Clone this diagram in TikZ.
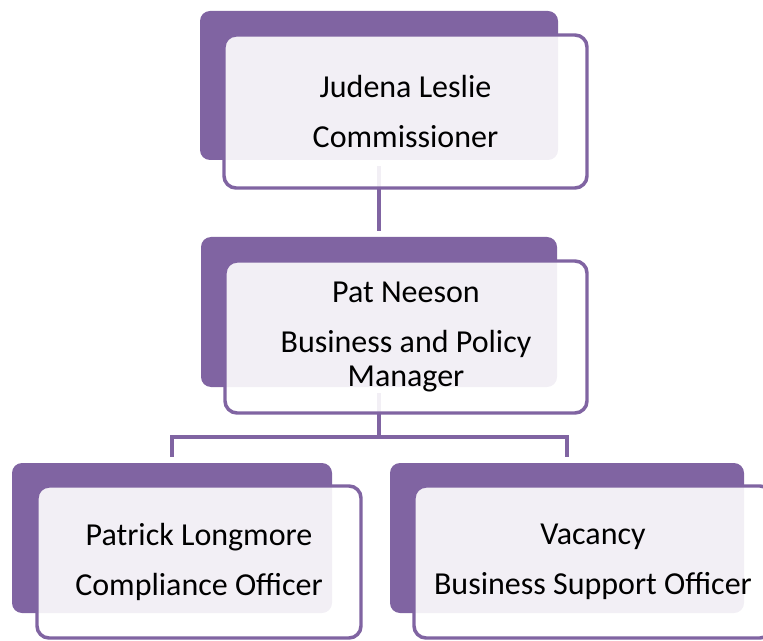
\documentclass[tikz,border=0pt]{standalone}
\usepackage{fontspec}
\setmainfont{Carlito}
\usetikzlibrary{positioning}
\definecolor{orgpurple}{HTML}{8064A2}
\tikzset{
x=0.75pt, y=-0.75pt, % one unit is one pixel of the reference, y going down
backbox/.style={fill=orgpurple, rounded corners=7.5pt, inner sep=0pt}, % the filled tab behind each box
frontbox/.style={draw=orgpurple, line width=2.6pt, fill=white, fill opacity=0.9, text opacity=1,
  rounded corners=9pt, inner sep=0pt, align=center, font=\fontsize{24}{26}\selectfont}, % the box with the text
link/.style={draw=orgpurple, line width=3.2pt, shorten <=4.5pt, shorten >=4.5pt}, % the lines between boxes
}

\begin{document}
\begin{tikzpicture}
        \useasboundingbox (0,0) rectangle (763,641);
        % tabs behind the boxes
        \node[backbox, minimum width=268.5pt, minimum height=111.75pt] (jl-back) at (379,85.5) {};
        \node[backbox, minimum width=267pt, minimum height=112.5pt] (pn-back) at (379,312) {};
        \node[backbox, minimum width=240pt, minimum height=112.5pt] (pl-back) at (172,538) {};
        \node[backbox, minimum width=265.5pt, minimum height=112.5pt] (vc-back) at (567,538) {};
        % lines
        \coordinate (bar) at (379,437);
        \draw[link] (jl-back.south) -- (pn-back.north);
        \draw[link, shorten >=0pt] (pn-back.south) -- (bar);
        \draw[link] (pl-back.north) |- (bar) -| (vc-back.north);
        % boxes
        \node[frontbox, minimum width=272.25pt, minimum height=114.75pt] (jl) at (405.5,111.5)
            {Judena Leslie\\[11.5pt]Commissioner};
        \node[frontbox, minimum width=271.5pt, minimum height=114pt] (pn) at (406,337)
            {Pat Neeson\\[11.5pt]Business and Policy\\Manager};
        \node[frontbox, minimum width=243pt, minimum height=114pt] (pl) at (199,562)
            {Patrick Longmore\\[11.5pt]Compliance Officer};
        \node[frontbox, minimum width=268.5pt, minimum height=114pt] (vc) at (593,562)
            {Vacancy\\[11.5pt]Business Support Officer};
\end{tikzpicture}
\end{document}
